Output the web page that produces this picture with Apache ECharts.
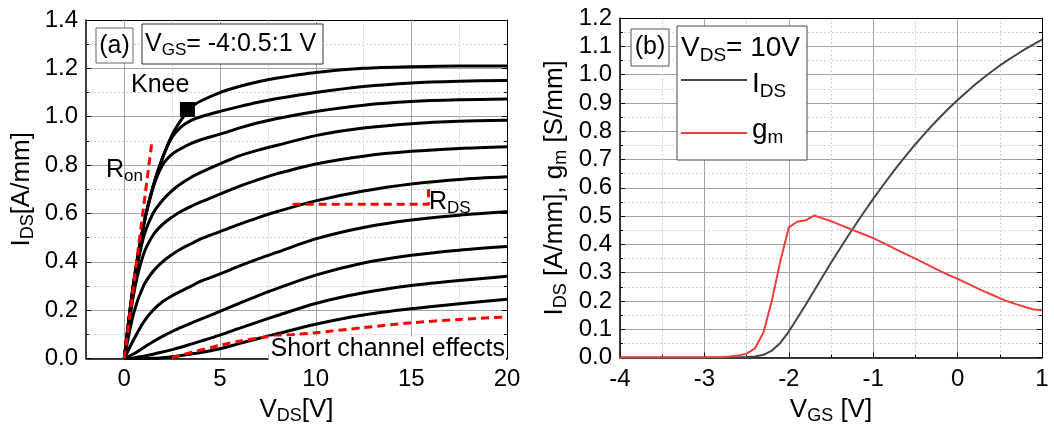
<!DOCTYPE html>
<html><head><meta charset="utf-8">
<script src="https://cdn.jsdelivr.net/npm/echarts@6/dist/echarts.min.js"></script>
<style>html,body{margin:0;padding:0;background:#fff}#c{width:1054px;height:430px}</style>
</head><body><div id="c"></div>
<script>
// ---------- (a) output characteristics ----------
const vds = [0, 0.5, 1, 1.5, 2, 2.5, 3, 3.5, 4, 5, 6, 7, 8, 10, 12.5, 15, 17.5, 20];
const ids1 = [0, 0.32, 0.55, 0.71, 0.83, 0.925, 0.99, 1.04, 1.065, 1.1, 1.125, 1.145, 1.16, 1.183, 1.2, 1.207, 1.21, 1.21];
const ids2 = [0, 0.32, 0.55, 0.71, 0.83, 0.915, 0.96, 0.985, 1.0, 1.022, 1.042, 1.06, 1.075, 1.1, 1.125, 1.14, 1.147, 1.15];
const ids3 = [0, 0.32, 0.545, 0.705, 0.8, 0.845, 0.87, 0.89, 0.905, 0.928, 0.953, 0.975, 0.993, 1.022, 1.048, 1.063, 1.07, 1.073];
const ids4 = [0, 0.3, 0.5, 0.6, 0.655, 0.695, 0.725, 0.75, 0.77, 0.805, 0.838, 0.862, 0.882, 0.922, 0.953, 0.971, 0.981, 0.985];
const ids5 = [0, 0.27, 0.43, 0.51, 0.555, 0.585, 0.61, 0.63, 0.648, 0.68, 0.712, 0.74, 0.765, 0.805, 0.837, 0.857, 0.869, 0.876];
const ids6 = [0, 0.19, 0.3, 0.36, 0.4, 0.43, 0.455, 0.475, 0.495, 0.525, 0.555, 0.583, 0.608, 0.652, 0.693, 0.722, 0.741, 0.752];
const ids7 = [0, 0.08, 0.15, 0.2, 0.235, 0.26, 0.28, 0.3, 0.32, 0.35, 0.382, 0.412, 0.44, 0.495, 0.542, 0.573, 0.593, 0.607];
const ids8 = [0, 0.02, 0.045, 0.07, 0.092, 0.112, 0.13, 0.147, 0.163, 0.195, 0.228, 0.26, 0.29, 0.345, 0.395, 0.427, 0.448, 0.463];
const ids9 = [0, 0.003, 0.01, 0.018, 0.027, 0.037, 0.048, 0.06, 0.072, 0.097, 0.125, 0.152, 0.178, 0.228, 0.272, 0.302, 0.323, 0.34];
const ids10 = [0, 0, 0, 0.001, 0.004, 0.008, 0.013, 0.019, 0.025, 0.041, 0.062, 0.083, 0.103, 0.142, 0.18, 0.206, 0.227, 0.245];
const outputCurves = [ids1, ids2, ids3, ids4, ids5, ids6, ids7, ids8, ids9, ids10];

const sceX = [2.5, 3.5, 5, 6, 7.5, 10, 12.5, 15, 17.5, 20];
const sceY = [0.005, 0.025, 0.055, 0.072, 0.09, 0.107, 0.128, 0.148, 0.162, 0.172];
const ronX = [0, 1.45];
const ronY = [0, 0.9];
const rdsX = [8.8, 15.9, 15.9];
const rdsY = [0.638, 0.638, 0.725];
const knee = [3.3, 1.03];
const xTicksA = [0, 5, 10, 15, 20];
const xMinorA = [2.5, 7.5, 12.5, 17.5];
const yRangeA = [0, 1.4];

// ---------- (b) transfer characteristics ----------
const vgs = [-4, -3.5, -3, -2.9, -2.8, -2.7, -2.6, -2.5, -2.4, -2.3, -2.2, -2.1, -2.0, -1.9, -1.8, -1.7, -1.6, -1.5, -1.4, -1.3, -1.2, -1.1, -1.0, -0.9, -0.8, -0.7, -0.6, -0.5, -0.4, -0.3, -0.2, -0.1, 0, 0.1, 0.2, 0.3, 0.4, 0.5, 0.6, 0.7, 0.8, 0.9, 1.0];
const idsT = [0, 0, 0, 0, 0.0001, 0.0003, 0.0008, 0.0018, 0.004, 0.01, 0.025, 0.052, 0.092, 0.139, 0.187, 0.236, 0.286, 0.335, 0.382, 0.429, 0.474, 0.518, 0.561, 0.602, 0.642, 0.681, 0.718, 0.754, 0.788, 0.821, 0.852, 0.882, 0.91, 0.937, 0.963, 0.987, 1.01, 1.032, 1.052, 1.071, 1.09, 1.107, 1.124];
const gm = [0, 0, 0.0005, 0.001, 0.002, 0.004, 0.007, 0.014, 0.033, 0.089, 0.203, 0.341, 0.46, 0.48, 0.485, 0.502, 0.492, 0.482, 0.47, 0.458, 0.446, 0.434, 0.422, 0.408, 0.393, 0.378, 0.364, 0.35, 0.335, 0.32, 0.305, 0.291, 0.278, 0.264, 0.25, 0.236, 0.223, 0.21, 0.198, 0.188, 0.179, 0.17, 0.167];

const FF = 'Liberation Sans, Arial, sans-serif';
function rich(F, Fs, drop) {
  const L = Math.round(F * 1.2);
  const mainBase = L / 2 + 0.35 * F;
  const subCenter = mainBase + drop - 0.35 * Fs;
  const Ls = Math.max(2, Math.round(2 * (L - subCenter)));
  return {
    m: {fontSize: F, fontFamily: FF, color: '#000', lineHeight: L, verticalAlign: 'middle'},
    s: {fontSize: Fs, fontFamily: FF, color: '#000', lineHeight: Ls, verticalAlign: 'bottom'}
  };
}
const pair = (xs, ys) => xs.map((x, i) => [x, ys[i]]);

const MAJ = {color: '#a3a3a3', width: 1, type: 'solid'};
const MIN = {color: '#cfcfcf', width: 1, type: [2, 2]};
const AX = {show: true, onZero: false, lineStyle: {color: '#000', width: 1.5}};
const FRAME = {show: true, onZero: false, lineStyle: {color: '#000', width: 1}};

const chart = echarts.init(document.getElementById('c'));
const series = [];
outputCurves.forEach((c) => {
  series.push({type: 'line', xAxisIndex: 0, yAxisIndex: 0, data: pair(vds, c), showSymbol: false,
    smooth: 0.3, lineStyle: {color: '#000', width: 3}, z: 3, silent: true});
});
series.push({type: 'line', xAxisIndex: 0, yAxisIndex: 0, data: pair(sceX, sceY), showSymbol: false, smooth: 0.3,
  lineStyle: {color: '#ff0000', width: 3, type: [8, 5]}, z: 4});
series.push({type: 'line', xAxisIndex: 0, yAxisIndex: 0, data: pair(ronX, ronY), showSymbol: false,
  lineStyle: {color: '#ff0000', width: 3, type: [8, 5]}, z: 4});
series.push({type: 'line', xAxisIndex: 0, yAxisIndex: 0, data: pair(rdsX, rdsY), showSymbol: false,
  lineStyle: {color: '#ff0000', width: 3, type: [8, 5]}, z: 4});
series.push({type: 'scatter', xAxisIndex: 0, yAxisIndex: 0, data: [knee], symbol: 'rect', symbolSize: 15,
  itemStyle: {color: '#000', opacity: 1}, z: 5});
series.push({type: 'line', xAxisIndex: 3, yAxisIndex: 2, data: pair(vgs, idsT), showSymbol: false,
  lineStyle: {color: '#454545', width: 2}, z: 3});
series.push({type: 'line', xAxisIndex: 3, yAxisIndex: 2, data: pair(vgs, gm), showSymbol: false,
  lineStyle: {color: '#f03c3c', width: 2}, z: 4});

const rAxis = rich(26, 18, 5);
const annotations = [
  {type: 'rect', z: 100, shape: {x: 96, y: 28, width: 37, height: 35}, style: {fill: '#fff', stroke: '#666', lineWidth: 1}},
  {type: 'text', z: 101, x: 114.5, y: 46, style: {text: '(a)', font: '25px ' + FF, fill: '#000', align: 'center', verticalAlign: 'middle'}},
  {type: 'rect', z: 100, shape: {x: 142, y: 24, width: 181, height: 40}, style: {fill: '#fff', stroke: '#333', lineWidth: 1}},
  {type: 'text', z: 101, x: 145, y: 44, style: {text: '{m|V}{s|GS}{m|= -4:0.5:1 V}', rich: rich(25, 17, 5), align: 'left', verticalAlign: 'middle'}},
  {type: 'text', z: 101, x: 131, y: 85, style: {text: 'Knee', font: '25px ' + FF, fill: '#000', align: 'left', verticalAlign: 'middle'}},
  {type: 'text', z: 101, x: 106, y: 170, style: {text: '{m|R}{s|on}', rich: rich(25, 17, 6), align: 'left', verticalAlign: 'middle'}},
  {type: 'text', z: 101, x: 429, y: 202, style: {text: '{m|R}{s|DS}', rich: rich(25, 17, 6), align: 'left', verticalAlign: 'middle'}},
  {type: 'text', z: 101, x: 506, y: 349, style: {text: 'Short channel effects', font: '25px ' + FF, fill: '#000', align: 'right', verticalAlign: 'middle', backgroundColor: '#fff', padding: [0, 1, 0, 2]}},
  {type: 'rect', z: 100, shape: {x: 631, y: 29, width: 38, height: 37}, style: {fill: '#fff', stroke: '#555', lineWidth: 1}},
  {type: 'text', z: 101, x: 650, y: 47.5, style: {text: '(b)', font: '25px ' + FF, fill: '#000', align: 'center', verticalAlign: 'middle'}},
  {type: 'rect', z: 100, shape: {x: 677, y: 26, width: 130, height: 134}, style: {fill: '#fff', stroke: '#444', lineWidth: 1}},
  {type: 'text', z: 101, x: 681, y: 48, style: {text: '{m|V}{s|DS}{m|= 10V}', rich: rich(28, 19, 6), align: 'left', verticalAlign: 'middle'}},
  {type: 'line', z: 101, shape: {x1: 681, y1: 80, x2: 747, y2: 80}, style: {stroke: '#454545', lineWidth: 2}},
  {type: 'text', z: 101, x: 752, y: 84, style: {text: '{m|I}{s|DS}', rich: rich(28, 19, 6), align: 'left', verticalAlign: 'middle'}},
  {type: 'line', z: 101, shape: {x1: 681, y1: 133, x2: 747, y2: 133}, style: {stroke: '#f03c3c', lineWidth: 2}},
  {type: 'text', z: 101, x: 752, y: 130, style: {text: '{m|g}{s|m}', rich: rich(28, 19, 6), align: 'left', verticalAlign: 'middle'}}
];

const option = {
  animation: false,
  backgroundColor: '#fff',
  grid: [
    {left: 86, right: 547, top: 20, bottom: 70},
    {left: 620, right: 12, top: 18, bottom: 64}
  ],
  xAxis: [
    {gridIndex: 0, type: 'value', min: -2, max: 20, position: 'bottom', axisLine: AX,
      axisTick: {show: true, inside: true, length: 5, customValues: xTicksA, lineStyle: {color: '#000'}},
      axisLabel: {customValues: xTicksA, fontSize: 24, fontFamily: FF, color: '#000', margin: 9},
      splitLine: {show: false},
      name: '{m|V}{s|DS}{m|[V]}', nameLocation: 'middle', nameGap: 32,
      nameTextStyle: {rich: rAxis}},
    {gridIndex: 0, type: 'value', min: -2, max: 20, position: 'bottom', axisLine: {show: false, onZero: false},
      axisTick: {show: true, inside: true, length: 3, customValues: xMinorA, lineStyle: {color: '#000'}},
      axisLabel: {show: false}, splitLine: {show: false}},
    {gridIndex: 0, type: 'value', min: -2, max: 20, position: 'top', axisLine: FRAME,
      axisTick: {show: false}, axisLabel: {show: false}, splitLine: {show: false}},
    {gridIndex: 1, type: 'value', min: -4, max: 1, interval: 1, position: 'bottom', axisLine: AX,
      axisTick: {show: true, inside: true, length: 5, lineStyle: {color: '#000'}},
      minorTick: {show: true, splitNumber: 2, length: 3, lineStyle: {color: '#000'}},
      axisLabel: {fontSize: 24, fontFamily: FF, color: '#000', margin: 10},
      splitLine: {show: true, lineStyle: MAJ}, minorSplitLine: {show: true, lineStyle: MIN},
      name: '{m|V}{s|GS}{m| [V]}', nameLocation: 'middle', nameGap: 34,
      nameTextStyle: {rich: rAxis}},
    {gridIndex: 1, type: 'value', min: -4, max: 1, interval: 1, position: 'top', axisLine: FRAME,
      axisTick: {show: false}, axisLabel: {show: false}, splitLine: {show: false}}
  ],
  yAxis: [
    {gridIndex: 0, type: 'value', min: 0, max: 1.4, interval: 0.2, position: 'left', axisLine: AX,
      axisTick: {show: true, inside: true, length: 5, lineStyle: {color: '#000'}},
      minorTick: {show: true, splitNumber: 2, length: 3, lineStyle: {color: '#000'}},
      axisLabel: {fontSize: 24, fontFamily: FF, color: '#000', margin: 8, formatter: v => v.toFixed(1)},
      splitLine: {show: true, lineStyle: MAJ}, minorSplitLine: {show: true, lineStyle: MIN},
      name: '{m|I}{s|DS}{m|[A/mm]}', nameLocation: 'middle', nameGap: 49,
      nameTextStyle: {rich: rAxis}},
    {gridIndex: 0, type: 'value', min: 0, max: 1.4, interval: 0.2, position: 'right', axisLine: FRAME,
      axisTick: {show: true, inside: true, length: 5, lineStyle: {color: '#000'}},
      minorTick: {show: true, splitNumber: 2, length: 3, lineStyle: {color: '#000'}},
      axisLabel: {show: false}, splitLine: {show: false}},
    {gridIndex: 1, type: 'value', min: 0, max: 1.2, interval: 0.1, position: 'left', axisLine: AX,
      axisTick: {show: true, inside: true, length: 5, lineStyle: {color: '#000'}},
      minorTick: {show: true, splitNumber: 2, length: 3, lineStyle: {color: '#000'}},
      axisLabel: {fontSize: 24, fontFamily: FF, color: '#000', margin: 8, formatter: v => v.toFixed(1)},
      splitLine: {show: true, lineStyle: MAJ}, minorSplitLine: {show: true, lineStyle: MIN},
      name: '{m|I}{s|DS}{m| [A/mm], g}{s|m}{m| [S/mm]}', nameLocation: 'middle', nameGap: 50,
      nameTextStyle: {rich: rAxis}},
    {gridIndex: 1, type: 'value', min: 0, max: 1.2, interval: 0.1, position: 'right', axisLine: FRAME,
      axisTick: {show: true, inside: true, length: 5, lineStyle: {color: '#000'}},
      minorTick: {show: true, splitNumber: 2, length: 3, lineStyle: {color: '#000'}},
      axisLabel: {show: false}, splitLine: {show: false}}
  ],
  series: series,
  graphic: annotations
};
chart.setOption(option);

// vertical grid lines of panel (a), positioned through the chart's own x/y scales
const finder = {xAxisIndex: 0, yAxisIndex: 0};
const gridLines = [];
function vLine(v, st, dash) {
  const p0 = chart.convertToPixel(finder, [v, yRangeA[0]]);
  const p1 = chart.convertToPixel(finder, [v, yRangeA[1]]);
  const x = Math.round(p0[0]) + 0.5;
  gridLines.push({type: 'line', z: 1, silent: true,
    shape: {x1: x, y1: p0[1], x2: x, y2: p1[1]},
    style: {stroke: st.color, lineWidth: 1, lineDash: dash}});
}
xTicksA.filter(v => v > -2 && v < 20).forEach(v => vLine(v, MAJ, null));
xMinorA.forEach(v => vLine(v, MIN, [2, 2]));
chart.setOption({graphic: annotations.concat(gridLines)});
</script>
</body></html>
